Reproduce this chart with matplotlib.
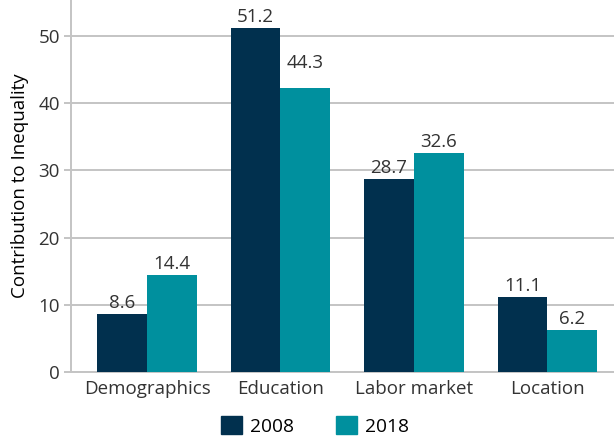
import numpy as np
import matplotlib
matplotlib.use("Agg")
import matplotlib.pyplot as plt
from matplotlib.patches import Patch

plt.rcParams["font.family"] = ["Open Sans", "DejaVu Sans"]

categories = ["Demographics", "Education", "Labor market", "Location"]
years = ["2008", "2018"]
# drawn bar heights (the 2018 Education bar is drawn lower than its label)
bars_2008 = [8.6, 51.2, 28.7, 11.1]
bars_2018 = [14.4, 42.3, 32.6, 6.2]
labels_2008 = [8.6, 51.2, 28.7, 11.1]
labels_2018 = [14.4, 44.3, 32.6, 6.2]
yticks = [0, 10, 20, 30, 40, 50]

NAVY = "#01304e"
TEAL = "#00909e"
GRID = "#c4c4c4"
TXT = "#333333"
FS = 13.5

fig = plt.figure(figsize=(6.14, 4.40), dpi=100)
ax = fig.add_axes([0.1156, 0.1545, 0.8844, 0.8455])

x = np.arange(len(categories))
w = 0.372
ax.bar(x - w / 2, bars_2008, w, color=NAVY, zorder=3)
ax.bar(x + w / 2, bars_2018, w, color=TEAL, zorder=3)
for xi, v in zip(x - w / 2, labels_2008):
    ax.text(xi, v + 0.35, f"{v:.1f}", ha="center", va="bottom", fontsize=FS, color=TXT)
for xi, v in zip(x + w / 2, labels_2018):
    ax.text(xi, v + 0.35, f"{v:.1f}", ha="center", va="bottom", fontsize=FS, color=TXT)

ax.set_xlim(-0.57, 3.5)
ax.set_ylim(0, 55.36)
ax.set_yticks(yticks)
ax.set_xticks(x)
ax.set_xticklabels(categories)
ax.grid(axis="y", color=GRID, lw=1.4, zorder=0)
ax.tick_params(axis="y", length=5, width=1.4, color=GRID, labelsize=FS, labelcolor=TXT, pad=3)
ax.tick_params(axis="x", length=0, labelsize=FS, labelcolor=TXT, pad=6)
for s in ["top", "right"]:
    ax.spines[s].set_visible(False)
for s in ["left", "bottom"]:
    ax.spines[s].set_color(GRID)
    ax.spines[s].set_linewidth(1.4)
ax.set_ylabel("Contribution to Inequality", fontsize=FS, color="black", labelpad=7)

handles = [Patch(color=NAVY), Patch(color=TEAL)]
fig.legend(handles, years, loc="center", bbox_to_anchor=(0.513, 0.032), ncol=2,
           frameon=False, fontsize=13.8, handlelength=1.1, handleheight=1.1,
           handletextpad=0.4, columnspacing=2.2)

fig.savefig("out.png", dpi=100)
